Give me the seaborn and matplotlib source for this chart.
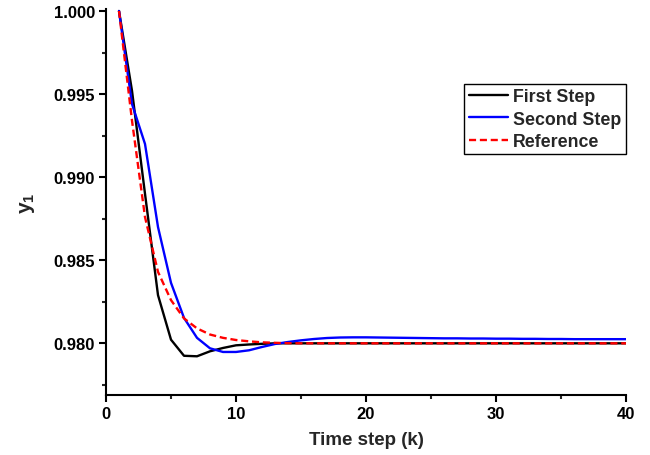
import numpy as np
import pandas as pd
import matplotlib
matplotlib.use("Agg")
import matplotlib.pyplot as plt
from matplotlib.ticker import MultipleLocator, FormatStrFormatter
import seaborn as sns

k = list(range(1, 41))
first_step = [1.0, 0.9952, 0.9890, 0.9829, 0.98022, 0.97925, 0.97922, 0.97952, 0.97972, 0.97988,
              0.97993, 0.97997, 0.98, 0.98, 0.98, 0.98, 0.98, 0.98, 0.98, 0.98,
              0.98, 0.98, 0.98, 0.98, 0.98, 0.98, 0.98, 0.98, 0.98, 0.98,
              0.98, 0.98, 0.98, 0.98, 0.98, 0.98, 0.98, 0.98, 0.98, 0.98]
second_step = [1.0, 0.9944, 0.9920, 0.9870, 0.98364, 0.98153, 0.98033, 0.97970, 0.97948, 0.97948,
               0.97958, 0.97978, 0.97996, 0.98008, 0.98018, 0.98026, 0.98032, 0.98035, 0.98036, 0.98036,
               0.98035, 0.98034, 0.98033, 0.98032, 0.98031, 0.98030, 0.98030, 0.98029, 0.98029, 0.98028,
               0.98028, 0.98027, 0.98027, 0.98026, 0.98026, 0.98025, 0.98025, 0.98025, 0.98025, 0.98025]
reference = [1.0, 0.9934, 0.9876, 0.9843, 0.9826, 0.9815, 0.9809, 0.98053, 0.98033, 0.98020,
             0.98012, 0.98006, 0.98003, 0.98001, 0.98, 0.98, 0.98, 0.98, 0.98, 0.98,
             0.98, 0.98, 0.98, 0.98, 0.98, 0.98, 0.98, 0.98, 0.98, 0.98,
             0.98, 0.98, 0.98, 0.98, 0.98, 0.98, 0.98, 0.98, 0.98, 0.98]

series_names = ["First Step", "Second Step", "Reference"]
colors = ["black", "#0000ff", "#ff0000"]
styles = ["-", "-", (0, (3, 1.6))]

df = pd.DataFrame({"k": k, "First Step": first_step,
                   "Second Step": second_step, "Reference": reference})

sns.set_style("ticks")
plt.rcParams["font.family"] = ["Liberation Sans", "DejaVu Sans"]
plt.rcParams["font.weight"] = "bold"
plt.rcParams["mathtext.fontset"] = "custom"
plt.rcParams["mathtext.bf"] = "Liberation Sans:bold"
plt.rcParams["mathtext.rm"] = "Liberation Sans:bold"
plt.rcParams["mathtext.it"] = "Liberation Sans:bold"

fig = plt.figure(figsize=(6.5, 4.56), dpi=100)
ax = fig.add_axes([106/650, 1-396/456, 520/650, 386/456])

for name, c, ls in zip(series_names, colors, styles):
    sns.lineplot(data=df, x="k", y=name, ax=ax, color=c, linestyle=ls,
                 linewidth=1.7, label=name)

ax.set_xlim(0, 40)
ax.set_ylim(0.97689, 1.00012)
ax.xaxis.set_major_locator(MultipleLocator(10))
ax.xaxis.set_minor_locator(MultipleLocator(5))
ax.yaxis.set_major_locator(MultipleLocator(0.005))
ax.yaxis.set_minor_locator(MultipleLocator(0.0025))
ax.yaxis.set_major_formatter(FormatStrFormatter("%.3f"))
ax.tick_params(which="major", direction="out", length=5, width=1.5, labelsize=12, colors="black", pad=3)
ax.tick_params(which="minor", direction="out", length=3, width=1.5)
for lbl in ax.get_xticklabels() + ax.get_yticklabels():
    lbl.set_fontweight("bold")

sns.despine(ax=ax)
for s in ["left", "bottom"]:
    ax.spines[s].set_linewidth(1.5)
    ax.spines[s].set_color("black")

ax.set_xlabel("Time step (k)", fontsize=13.5, fontweight="bold", labelpad=7)
ax.set_ylabel(r"$\mathrm{y_1}$", fontsize=15, fontweight="bold", labelpad=12)

leg = ax.legend(loc="upper right", bbox_to_anchor=(1.0, 0.806), borderaxespad=0,
                frameon=True, fancybox=False, edgecolor="black", framealpha=1,
                fontsize=12.8, handlelength=2.2, handletextpad=0.3, borderpad=0.25,
                labelspacing=0.3)
leg.get_frame().set_linewidth(1.0)
for t in leg.get_texts():
    t.set_fontweight("bold")

fig.savefig("out.png", dpi=100)
